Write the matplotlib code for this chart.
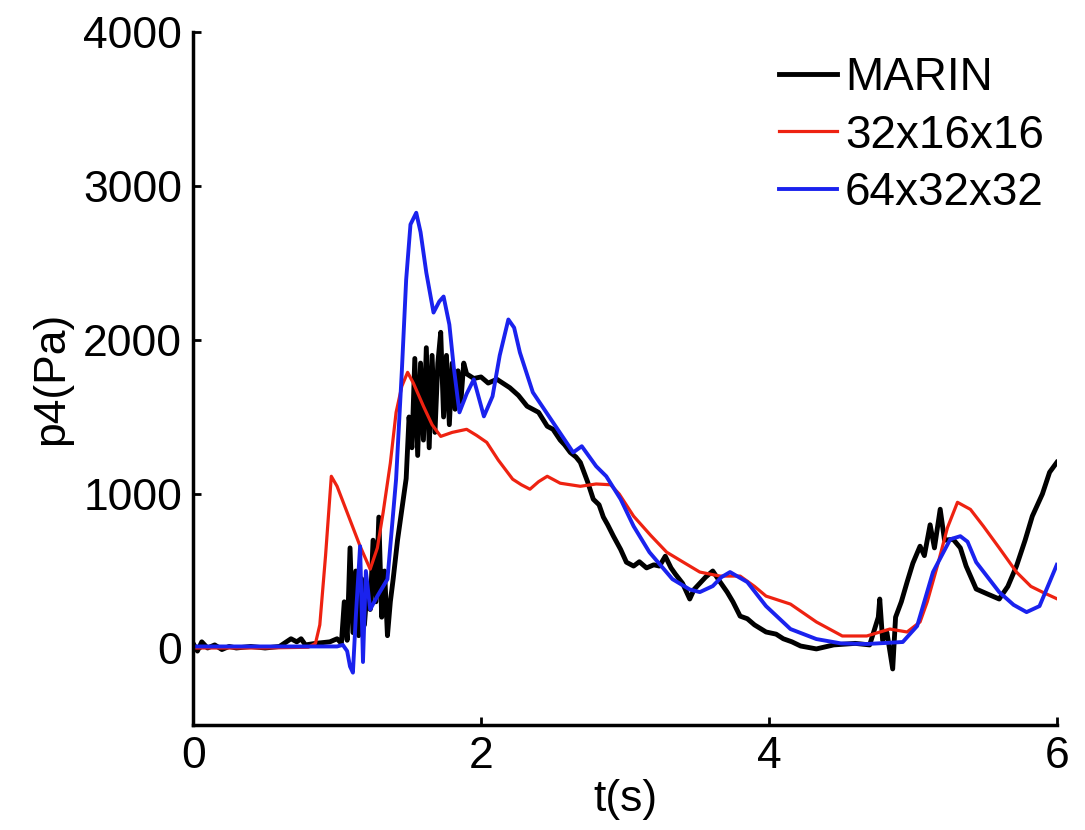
import matplotlib
matplotlib.use("Agg")
import matplotlib.pyplot as plt

plt.rcParams['font.family'] = ['Liberation Sans', 'DejaVu Sans']

# MARIN experimental data
marin_t = [0.00, 0.03, 0.06, 0.10, 0.15, 0.20, 0.25, 0.30, 0.40, 0.50, 0.60, 0.68, 0.72, 0.75, 0.78,
           0.85, 0.95, 1.00, 1.03, 1.05, 1.07, 1.09, 1.11, 1.13, 1.15, 1.17, 1.19, 1.21, 1.23, 1.25,
           1.27, 1.29, 1.31, 1.33, 1.35, 1.37, 1.39, 1.42, 1.45, 1.48, 1.50, 1.52, 1.54, 1.56, 1.58,
           1.60, 1.62, 1.64, 1.66, 1.68, 1.70, 1.72, 1.74, 1.76, 1.78, 1.80, 1.82, 1.84, 1.86, 1.88,
           1.90, 1.95, 2.00, 2.05, 2.11, 2.20, 2.26, 2.32, 2.40, 2.46, 2.50, 2.55, 2.58, 2.62, 2.66,
           2.69, 2.74, 2.78, 2.82, 2.85, 2.88, 2.92, 2.97, 3.01, 3.06, 3.10, 3.15, 3.20, 3.24, 3.28,
           3.32, 3.35, 3.40, 3.45, 3.48, 3.52, 3.56, 3.61, 3.66, 3.71, 3.75, 3.80, 3.85, 3.90, 3.98,
           4.05, 4.10, 4.16, 4.22, 4.33, 4.45, 4.60, 4.70, 4.76, 4.77, 4.79, 4.82, 4.86, 4.88, 4.92,
           4.96, 5.00, 5.05, 5.08, 5.12, 5.15, 5.19, 5.22, 5.28, 5.33, 5.37, 5.44, 5.52, 5.60, 5.66,
           5.72, 5.78, 5.83, 5.90, 5.95, 6.00]
marin_p = [30, -20, 40, 0, 20, -10, 10, 0, 10, 0, 10, 60, 40, 60, 20,
           30, 40, 60, 30, 300, 50, 650, 100, 500, 80, 450, 150, 400, 250, 700,
           300, 850, 200, 500, 80, 300, 450, 700, 900, 1100, 1500, 1300, 1880, 1250, 1850,
           1350, 1950, 1300, 1900, 1400, 1850, 2050, 1500, 1900, 1450, 1850, 1550, 1800, 1600, 1850,
           1780, 1750, 1760, 1720, 1745, 1690, 1640, 1570, 1530, 1440, 1420, 1350, 1320, 1270, 1240,
           1205, 1080, 966, 930, 850, 800, 726, 640, 557, 532, 560, 520, 540, 532, 596,
           520, 480, 420, 318, 380, 420, 460, 500, 430, 363, 300, 207, 190, 150, 104,
           90, 60, 40, 13, -6, 20, 30, 20, 200, 318, 50, 100, -136, 200, 300,
           428, 550, 661, 600, 800, 650, 901, 700, 706, 650, 532, 383, 350, 318, 400,
           532, 700, 856, 1000, 1141, 1205]

# 32x16x16 simulation
r32_t = [0.00, 0.50, 0.80, 0.85, 0.88, 0.92, 0.96, 1.00, 1.07, 1.16, 1.23, 1.28, 1.32, 1.37, 1.41,
         1.45, 1.49, 1.53, 1.60, 1.66, 1.72, 1.80, 1.90, 1.97, 2.04, 2.12, 2.22, 2.28, 2.34, 2.40,
         2.46, 2.55, 2.69, 2.80, 2.90, 2.96, 3.06, 3.18, 3.29, 3.40, 3.52, 3.66, 3.80, 3.90, 3.98,
         4.15, 4.33, 4.51, 4.68, 4.84, 4.96, 5.05, 5.10, 5.17, 5.24, 5.31, 5.40, 5.49, 5.60, 5.72,
         5.82, 5.90, 6.00]
r32_p = [0, 0, 5, 30, 150, 600, 1115, 1050, 880, 661, 512, 650, 880, 1200, 1530,
         1700, 1790, 1720, 1570, 1450, 1374, 1400, 1420, 1380, 1335, 1220, 1096, 1060, 1031, 1080,
         1115, 1070, 1050, 1065, 1060, 1000, 856, 730, 622, 560, 493, 467, 467, 400, 337,
         285, 169, 78, 78, 123, 104, 169, 300, 532, 780, 946, 900, 791, 650, 493,
         400, 363, 320]

# 64x32x32 simulation
b64_t = [0.00, 0.50, 0.90, 1.00, 1.04, 1.07, 1.09, 1.11, 1.13, 1.16, 1.18, 1.20, 1.23, 1.28, 1.35,
         1.41, 1.45, 1.48, 1.51, 1.55, 1.58, 1.62, 1.67, 1.71, 1.74, 1.78, 1.81, 1.85, 1.90, 1.95,
         2.02, 2.08, 2.13, 2.19, 2.23, 2.27, 2.36, 2.50, 2.64, 2.70, 2.80, 2.87, 2.97, 3.06, 3.17,
         3.33, 3.45, 3.52, 3.61, 3.67, 3.73, 3.85, 3.98, 4.15, 4.33, 4.50, 4.68, 4.93, 5.03, 5.14,
         5.26, 5.33, 5.38, 5.44, 5.60, 5.70, 5.79, 5.88, 5.95, 6.00]
b64_p = [10, 10, 10, 10, 20, -20, -120, -160, 200, 661, -91, 500, 250, 337, 447,
         1096, 1800, 2392, 2750, 2826, 2700, 2437, 2178, 2250, 2282, 2100, 1828, 1530, 1650, 1744,
         1504, 1634, 1900, 2133, 2080, 1919, 1660, 1465, 1270, 1310, 1180, 1115, 966, 791, 622,
         447, 380, 363, 402, 460, 493, 428, 272, 123, 58, 30, 26, 39, 143, 493,
         706, 726, 690, 557, 363, 280, 233, 272, 428, 540]

FS = 32

fig = plt.figure(figsize=(10.85, 8.3), dpi=100)
ax = fig.add_axes([0.178, 0.1265, 0.796, 0.835])

ax.plot(marin_t, marin_p, color='black', lw=3.5, label='MARIN')
ax.plot(r32_t, r32_p, color='#ee2211', lw=2.3, label='32x16x16')
ax.plot(b64_t, b64_p, color='#1a22ee', lw=2.8, label='64x32x32')

ax.set_xlim(0, 6)
ax.set_ylim(-500, 4000)
ax.set_xticks([0, 2, 4, 6])
ax.set_yticks([0, 1000, 2000, 3000, 4000])
ax.spines['top'].set_visible(False)
ax.spines['right'].set_visible(False)
for s in ('left', 'bottom'):
    ax.spines[s].set_linewidth(2.5)
ax.tick_params(direction='in', length=6, width=2, labelsize=FS)
ax.tick_params(axis='x', pad=8)
ax.tick_params(axis='y', pad=8)
ax.set_xlabel('t(s)', fontsize=FS, labelpad=1)
ax.set_ylabel('p4(Pa)', fontsize=FS, labelpad=8)

leg = ax.legend(loc='upper right', frameon=False, fontsize=FS + 1, handlelength=1.25,
                handletextpad=0.18, labelspacing=0.29, borderaxespad=0.0, borderpad=0.0,
                bbox_to_anchor=(0.985, 0.965))

fig.savefig('out.png', dpi=100)
